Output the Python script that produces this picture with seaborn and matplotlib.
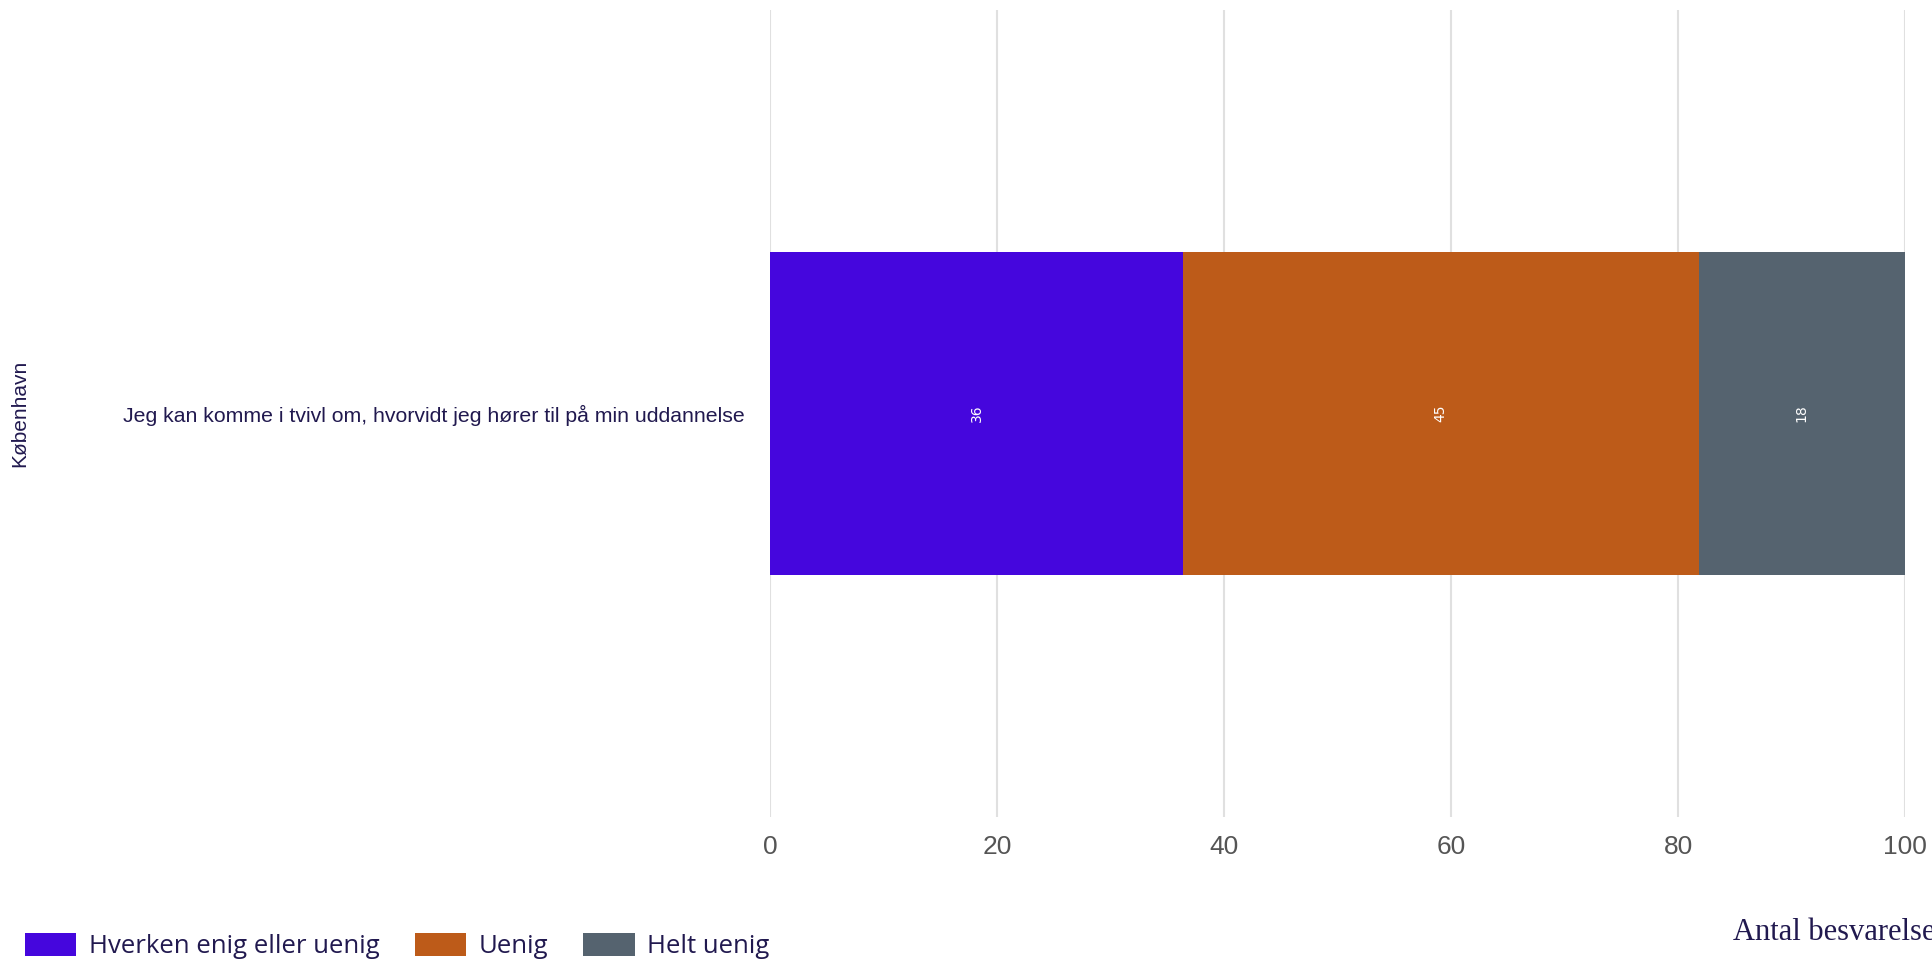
import pandas as pd
import matplotlib.pyplot as plt
import seaborn as sns

# data (shares in %)
question = "Jeg kan komme i tvivl om, hvorvidt jeg hører til på min uddannelse"
responses = ["Hverken enig eller uenig", "Uenig", "Helt uenig"]
values = [36.36, 45.45, 18.18]
colors = ["#4506DD", "#BD5B19", "#55636F"]
xticks = [0, 20, 40, 60, 80, 100]

navy = "#21194F"

sns.set_style("white")
plt.rcParams["font.family"] = ["Liberation Sans", "DejaVu Sans"]

# cumulative ends, so overlapping bars look stacked
cum = pd.Series(values).cumsum().tolist()
df = pd.DataFrame({"question": question, "response": responses, "cum": cum})
order = responses[::-1]  # widest first so the narrower ones sit on top

fig = plt.figure(figsize=(19.32, 9.64), dpi=100)
ax = fig.add_axes([0.3986, 0.1525, 0.5875, 0.8371])

sns.barplot(data=df, x="cum", y="question", hue="response", hue_order=order,
            palette=dict(zip(responses, colors)), dodge=False, width=0.8,
            saturation=1, linewidth=0, ax=ax, legend=True)

ax.set_xlim(0, 100)
ax.set_ylim(1, -1)
ax.set_xticks(xticks)
ax.set_xlabel("")
ax.set_ylabel("")
ax.grid(axis="x", color="#e0e0e0", linewidth=1.5)
ax.grid(axis="y", visible=False)
ax.set_axisbelow(True)
for s in ax.spines.values():
    s.set_visible(False)
ax.tick_params(axis="x", length=0, pad=13, labelsize=19, labelcolor="#555555")
ax.tick_params(axis="y", length=0, pad=18, labelsize=15.3, labelcolor=navy)

# value labels in the middle of each segment
start = 0
for v in values:
    ax.text(start + v / 2, 0, f"{int(v)}", rotation=90, ha="center", va="center",
            color="white", fontsize=10, family="DejaVu Sans")
    start += v

# legend in original order
handles, labels = ax.get_legend_handles_labels()
ax.legend_.remove()
handles, labels = handles[::-1], labels[::-1]
fig.legend(handles, labels, loc="center left", bbox_to_anchor=(25 / 1932, 1 - 946 / 964),
           ncol=3, frameon=False, borderpad=0, borderaxespad=0,
           handlelength=2.0, handleheight=1.0, handletextpad=0.5, columnspacing=1.35,
           prop={"family": "Open Sans", "size": 18.5}, labelcolor=navy)

fig.text(20 / 1932, 1 - 413 / 964, "København", rotation=90, ha="center", va="center",
         fontsize=15, color=navy)
fig.text(1733 / 1932, 1 - 933 / 964, "Antal besvarelser", ha="left", va="center",
         fontsize=22, color=navy, family="Liberation Serif")

fig.savefig("out.png", dpi=100)
